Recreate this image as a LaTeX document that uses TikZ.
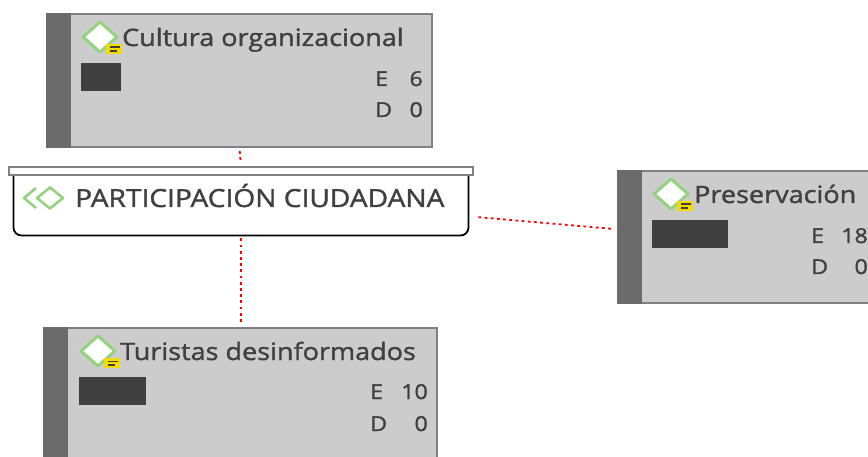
\documentclass[tikz,border=0pt]{standalone}
\usepackage{fontspec}
\setmainfont[FakeStretch=1.13,FakeBold=1.4]{Open Sans}
\usetikzlibrary{calc}
\definecolor{txt}{HTML}{404040}
\definecolor{cardfill}{HTML}{CCCCCC}
\definecolor{cardedge}{HTML}{808080}
\definecolor{strip}{HTML}{6B6B6B}
\definecolor{dia}{HTML}{96D182}
\definecolor{badge}{HTML}{F2DC00}
\tikzset{
  x=1pt,y=-1pt,
  card/.style={draw=cardedge,fill=cardfill,line width=2pt,anchor=north west,inner sep=0pt},
  stripe/.style={fill=strip,draw=none,anchor=north west,inner sep=0pt,minimum width=25pt},
  mask/.style={fill=txt,draw=none,anchor=north west,inner sep=0pt,minimum height=28pt},
  title/.style={text=txt,anchor=west,inner sep=0pt,text height=18pt,text depth=6pt,font=\fontsize{23.9}{28}\selectfont},
  stat/.style={text=txt,inner sep=0pt,text height=15pt,text depth=0pt,font=\fontsize{20.5}{24}\selectfont},
  link/.style={draw=red,line width=1.8pt,dash pattern=on 2.8pt off 3.4pt},
  noteicon/.pic={
    \draw[draw=dia,fill=white,line width=3pt,line join=round] (-17,0)--(0,-15)--(17,0)--(0,15)--cycle;
    \fill[badge] (6,7) rectangle (22,17);
    \fill[txt] (9.5,9.5) rectangle (19.5,11.3);
    \fill[txt] (9.5,12.8) rectangle (16.5,14.6);
  },
  twindia/.pic={
    \draw[draw=dia,line width=2.6pt,line join=round] (-5,-10)--(-17,0)--(-5,10);
    \draw[draw=dia,fill=white,line width=2.6pt,line join=round] (-4,0)--(9,-10.5)--(22,0)--(9,10.5)--cycle;
  }
}
\begin{document}
\begin{tikzpicture}
\useasboundingbox (0,0) rectangle (868,457);
% Cultura organizacional
\node[card,minimum width=385pt,minimum height=133pt] (cult) at (46,13) {};
\node[stripe,minimum height=135pt] (cultS) at (46,13) {};
\pic at (100,37) {noteicon};
\node[title] (cultT) at (122,40) {Cultura organizacional};
\node[mask,minimum width=40pt] (cultM) at (81,63) {};
\node[stat,anchor=west] (cultE) at (375,78.5) {E};
\node[stat,anchor=east] (cultEv) at (423,78.5) {6};
\node[stat,anchor=west] (cultD) at (375,109.5) {D};
\node[stat,anchor=east] (cultDv) at (423,109.5) {0};
% Preservacion
\node[card,minimum width=255pt,minimum height=132pt] (pres) at (617,170) {};
\node[stripe,minimum height=134pt] (presS) at (617,170) {};
\pic at (671,194) {noteicon};
\node[title] (presT) at (694,197) {Preservación};
\node[mask,minimum width=76pt] (presM) at (652,220) {};
\node[stat,anchor=west] (presE) at (811,235.5) {E};
\node[stat,anchor=east] (presEv) at (868,235.5) {18};
\node[stat,anchor=west] (presD) at (811,266.5) {D};
\node[stat,anchor=east] (presDv) at (868,266.5) {0};
% Turistas desinformados
\node[card,minimum width=393pt,minimum height=135pt] (tur) at (43,327) {};
\node[stripe,minimum height=135pt] (turS) at (43,327) {};
\pic at (98,351) {noteicon};
\node[title] (turT) at (120,354) {Turistas desinformados};
\node[mask,minimum width=67pt] (turM) at (79,377) {};
\node[stat,anchor=west] (turE) at (370,391.5) {E};
\node[stat,anchor=east] (turEv) at (428,391.5) {10};
\node[stat,anchor=west] (turD) at (370,423.5) {D};
\node[stat,anchor=east] (turDv) at (428,423.5) {0};
% Participacion ciudadana
\draw[black,line width=1.8pt,fill=white,rounded corners=8pt] (13.5,170) -- (13.5,235.5) -- (468.5,235.5) -- (468.5,170);
\node[draw=cardedge,fill=white,line width=2pt,anchor=north west,inner sep=0pt,minimum width=464pt,minimum height=8pt] (partTop) at (8,166) {};
\node[anchor=north west,inner sep=0pt,minimum width=456pt,minimum height=70pt] (part) at (13,166) {};
\pic at (41,198) {twindia};
\node[title,font=\fontsize{24.9}{28}\selectfont] (partT) at (75,201) {PARTICIPACIÓN CIUDADANA};
% Connectors
\draw[link,shorten <=3pt,shorten >=3pt] (cult.south) -- (partTop.north);
\draw[link,shorten <=2pt,shorten >=3pt] (part.south) -- (tur.north -| part.south);
\draw[link] ([xshift=9pt,yshift=-16pt]part.east) -- ([xshift=-3pt,yshift=8pt]pres.west);
\end{tikzpicture}
\end{document}
